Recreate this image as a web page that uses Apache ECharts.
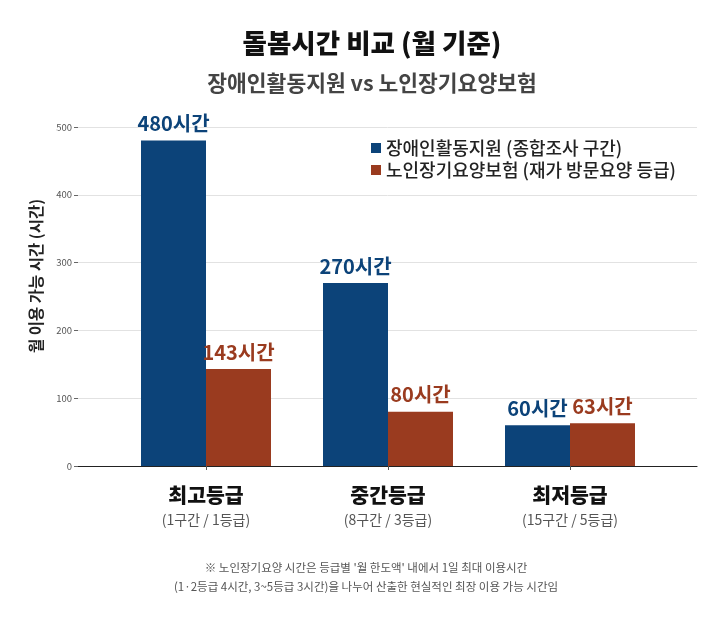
<!DOCTYPE html>
<html><head><meta charset="utf-8">
<script src="https://cdn.jsdelivr.net/npm/echarts@6/dist/echarts.min.js"></script>
<style>html,body{margin:0;padding:0;background:#fff}#c{width:718px;height:623px}</style>
</head><body><div id="c"></div>
<script>
const categories = ['최고등급', '중간등급', '최저등급'];
const subLabels = ['(1구간 / 1등급)', '(8구간 / 3등급)', '(15구간 / 5등급)'];
const seriesNames = ['장애인활동지원 (종합조사 구간)', '노인장기요양보험 (재가 방문요양 등급)'];
const disabilityHours = [480, 270, 60];
const elderlyHours = [143, 80, 63];
const footnoteLines = [
  "※ 노인장기요양 시간은 등급별 '월 한도액' 내에서 1일 최대 이용시간",
  "(1·2등급 4시간, 3~5등급 3시간)을 나누어 산출한 현실적인 최장 이용 가능 시간임"
];

const FONT = '"Noto Sans CJK KR", "Noto Sans", sans-serif';
const BLUE = '#0c4379';
const RED = '#9a3b1f';
const chart = echarts.init(document.getElementById('c'), null, {renderer: 'canvas'});
const lbl = (color) => ({
  show: true, position: 'top', distance: 7,
  formatter: p => p.value + '시간',
  color: color, fontFamily: FONT, fontWeight: 'bold', fontSize: 20
});
chart.setOption({
  backgroundColor: '#fff',
  animation: false,
  graphic: [
    {type: 'text', x: 372, y: 43,
     style: {text: '돌봄시간 비교 (월 기준)', fontFamily: FONT, fontWeight: 900, fontSize: 26.5,
             fill: '#111', align: 'center', verticalAlign: 'middle'}},
    {type: 'text', x: 372, y: 83,
     style: {text: '장애인활동지원 vs 노인장기요양보험', fontFamily: FONT, fontWeight: 'bold', fontSize: 21.5,
             fill: '#444', align: 'center', verticalAlign: 'middle'}},
    {type: 'text', x: 366, y: 558,
     style: {text: footnoteLines.join('\n'), fontFamily: FONT, fontSize: 11.5, fill: '#555',
             lineHeight: 19, align: 'center'}},
    {type: 'text', x: 36, y: 276, rotation: Math.PI / 2,
     style: {text: '월 이용 가능 시간 (시간)', fontFamily: FONT, fontWeight: 'bold', fontSize: 15.5,
             fill: '#222', align: 'center', verticalAlign: 'middle'}}
  ],
  legend: {
    data: seriesNames, orient: 'vertical', left: 366, top: 134,
    itemWidth: 10, itemHeight: 10, itemGap: 4, icon: 'rect',
    textStyle: {fontFamily: FONT, fontSize: 18, fontWeight: 500, color: '#222'}
  },
  grid: [
    {left: 78, right: 21, top: 127, bottom: 157, containLabel: false},
    {left: 115, right: 57, top: 127, bottom: 157, containLabel: false}
  ],
  xAxis: [
    {type: 'value', gridIndex: 0, min: 0, max: 1, show: true,
     axisLine: {show: true, onZero: false, lineStyle: {color: '#222', width: 1.2}},
     axisTick: {show: false}, axisLabel: {show: false}, splitLine: {show: false}},
    {type: 'category', gridIndex: 1, data: categories,
     axisLine: {show: false}, axisTick: {show: true, alignWithLabel: true, length: 4, lineStyle: {color: '#555'}},
     axisLabel: {
       margin: 15, interval: 0,
       formatter: (v, i) => '{a|' + v + '}\n{b|' + subLabels[i] + '}',
       rich: {
         a: {fontFamily: FONT, fontWeight: 900, fontSize: 20.5, color: '#111', lineHeight: 28},
         b: {fontFamily: FONT, fontSize: 14, color: '#555', lineHeight: 22}
       }
     }}
  ],
  yAxis: [
    {type: 'value', gridIndex: 0, min: 0, max: 500, interval: 100,
     axisLine: {show: false},
     axisTick: {show: true, length: 4, lineStyle: {color: '#666'}},
     axisLabel: {fontFamily: FONT, fontSize: 9.5, color: '#555', margin: 6},
     splitLine: {show: true, lineStyle: {color: '#e2e2e2', width: 1}}},
    {type: 'value', gridIndex: 1, min: 0, max: 500, interval: 100, show: false,
     splitLine: {show: false}}
  ],
  series: [
    {name: seriesNames[0], type: 'bar', xAxisIndex: 1, yAxisIndex: 1, data: disabilityHours,
     barWidth: 65, barGap: '0%', itemStyle: {color: BLUE}, label: lbl(BLUE)},
    {name: seriesNames[1], type: 'bar', xAxisIndex: 1, yAxisIndex: 1, data: elderlyHours,
     barWidth: 65, barGap: '0%', itemStyle: {color: RED}, label: lbl(RED)}
  ]
});
</script></body></html>
